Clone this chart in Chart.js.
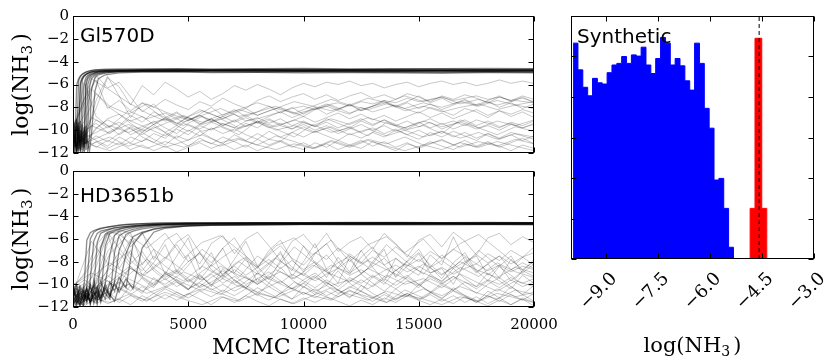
<!DOCTYPE html>
<html>
<head>
<meta charset="utf-8">
<script src="https://cdn.jsdelivr.net/npm/chart.js@4.4.1/dist/chart.umd.min.js"></script>
<style>
html, body { margin: 0; padding: 0; background: #fff; overflow: hidden; }
.box { position: absolute; }
</style>
</head>
<body>
<div class="box" style="left:0;top:0;width:560px;height:167px"><canvas id="traceTop"></canvas></div>
<div class="box" style="left:0;top:156px;width:560px;height:207px"><canvas id="traceBottom"></canvas></div>
<div class="box" style="left:555px;top:0;width:276px;height:363px"><canvas id="histSynth"></canvas></div>
<script>
// MCMC traces of log(NH3) for two objects + posterior histogram of a synthetic retrieval

// iteration grids used by the straggling walkers (both panels)
const strayIters = [0,500,1000,1500,2000,2500,3000,3500,4000,4500,5000,5500,6000,6500,7000,7500,8000,8500,9000,9500,10000,
  10500,11000,11500,12000,12500,13000,13500,14000,14500,15000,15500,16000,16500,17000,17500,18000,18500,19000,19500,20000];
const strayIters2 = [0,800,1600,2400,3200,4000,4800,5600,6400,7200,8000,8800,9600,10400,11200,12000,12800,13600,14400,15200,
  16000,16800,17600,18400,19200,20000];

// Gl570D: walkers that converge onto the -4.7 band
const convItersTop = [0,80,160,240,320,400,480,560,640,720,800,950,1100,1400,2000,3000,4500,6000,8000,10000,12000,14000,16000,18000,20000];
const convTop = [
  [-10.2,-11.5,-9.1,-11.8,-5.8,-5.4,-5.2,-5.1,-5.0,-4.95,-4.9,-4.85,-4.8,-4.77,-4.74,-4.72,-4.7,-4.74,-4.71,-4.73,-4.7,-4.72,-4.74,-4.7,-4.72],
  [-11.8,-10.4,-11.9,-10.2,-11.6,-9.8,-5.9,-5.4,-5.2,-5.1,-5.0,-4.95,-4.88,-4.83,-4.8,-4.78,-4.76,-4.8,-4.77,-4.75,-4.78,-4.8,-4.76,-4.79,-4.77],
  [-9.4,-10.9,-11.7,-9.6,-11.1,-10.5,-11.9,-6.1,-5.5,-5.3,-5.15,-5.0,-4.92,-4.87,-4.85,-4.82,-4.8,-4.78,-4.82,-4.85,-4.8,-4.83,-4.81,-4.84,-4.8],
  [-10.8,-9.7,-11.4,-5.7,-5.3,-5.1,-5.0,-4.92,-4.86,-4.82,-4.78,-4.74,-4.72,-4.7,-4.69,-4.68,-4.66,-4.69,-4.67,-4.65,-4.68,-4.66,-4.64,-4.67,-4.65],
  [-11.3,-11.9,-10.1,-11.4,-9.2,-11.0,-10.3,-11.7,-9.8,-6.2,-5.5,-5.2,-5.05,-4.95,-4.9,-4.88,-4.86,-4.9,-4.92,-4.88,-4.9,-4.93,-4.95,-4.91,-4.93],
  [-9.9,-10.6,-11.4,-9.3,-11.8,-5.6,-5.3,-5.15,-5.05,-4.98,-4.92,-4.86,-4.82,-4.79,-4.76,-4.74,-4.73,-4.75,-4.76,-4.74,-4.75,-4.77,-4.75,-4.74,-4.76],
  [-10.5,-11.1,-9.0,-11.6,-10.4,-11.9,-9.7,-11.2,-6.0,-5.5,-5.3,-5.1,-5.0,-4.9,-4.82,-4.76,-4.79,-4.77,-4.74,-4.78,-4.76,-4.74,-4.78,-4.8,-4.78],
  [-11.6,-10.2,-11.8,-10.4,-11.3,-9.5,-11.6,-10.1,-11.9,-10.6,-6.4,-5.4,-5.15,-5.0,-4.88,-4.83,-4.84,-4.82,-4.86,-4.84,-4.86,-4.84,-4.87,-4.85,-4.88],
  [-10.1,-11.3,-6.0,-5.5,-5.25,-5.1,-5.0,-4.92,-4.86,-4.8,-4.76,-4.72,-4.69,-4.66,-4.64,-4.63,-4.62,-4.64,-4.62,-4.6,-4.63,-4.61,-4.62,-4.6,-4.62],
  [-11.0,-11.7,-9.3,-10.9,-11.8,-10.2,-11.5,-9.6,-11.1,-11.8,-10.4,-6.6,-5.5,-5.15,-4.98,-4.92,-4.9,-4.96,-4.94,-4.97,-4.95,-4.98,-5.0,-4.96,-4.98],
  [-10.7,-9.5,-11.2,-11.9,-10.0,-11.4,-10.8,-5.7,-5.35,-5.2,-5.1,-4.98,-4.9,-4.85,-4.8,-4.75,-4.72,-4.71,-4.7,-4.73,-4.71,-4.7,-4.72,-4.71,-4.73],
  [-11.5,-10.8,-11.9,-10.1,-6.0,-5.5,-5.25,-5.1,-5.0,-4.93,-4.88,-4.83,-4.8,-4.78,-4.76,-4.8,-4.82,-4.79,-4.81,-4.8,-4.82,-4.84,-4.81,-4.83,-4.82]
];
// Gl570D: walkers still wandering in the low-abundance tail
const strayTop = [
  [-10.5,-11.2,-9.8,-9.1,-9.6,-8.7,-9.3,-8.4,-8.9,-9.5,-8.8,-8.2,-8.6,-9.0,-8.5,-8.1,-8.7,-8.3,-8.0,-8.4,-8.8,-8.2,-7.9,-8.3,-8.6,-8.0,-8.4,-8.1,-7.8,-8.2,-8.5,-8.0,-8.3,-8.7,-8.1,-8.4,-8.9,-8.3,-8.6,-8.2,-8.5],
  [-11.6,-10.3,-10.9,-11.4,-10.6,-11.1,-10.2,-10.8,-11.3,-10.5,-10.9,-10.1,-10.7,-11.2,-10.4,-10.9,-10.3,-10.8,-11.0,-10.2,-10.6,-10.1,-10.5,-10.9,-10.3,-10.7,-10.2,-10.6,-10.0,-10.4,-10.8,-10.2,-10.6,-10.1,-10.5,-10.9,-10.3,-10.7,-10.2,-10.5,-10.8],
  [-9.8,-7.2,-5.6,-8.1,-7.4,-8.3,-7.6,-8.0,-7.3,-7.8,-8.2,-7.5,-7.9,-7.2,-7.7,-8.1,-7.4,-7.0,-7.5,-7.1,-6.8,-7.3,-6.9,-7.4,-7.0,-6.7,-7.2,-6.9,-7.3,-6.8,-7.1,-7.5,-7.0,-7.3,-6.9,-7.2,-7.6,-7.1,-7.4,-7.0,-7.3],
  [-11.0,-10.1,-9.4,-10.2,-9.7,-10.4,-9.9,-9.2,-9.8,-10.3,-9.5,-9.9,-9.3,-9.7,-10.1,-9.4,-9.8,-9.1,-9.6,-9.9,-9.3,-9.7,-9.0,-9.4,-9.8,-9.2,-9.6,-9.1,-9.5,-9.9,-9.4,-9.0,-9.5,-9.2,-9.6,-9.1,-9.4,-9.8,-9.3,-9.6,-9.2],
  [-10.2,-5.9,-8.8,-9.6,-10.4,-9.8,-10.6,-11.1,-10.3,-10.8,-11.4,-10.7,-11.2,-10.6,-11.0,-11.5,-10.8,-11.3,-10.9,-11.4,-11.7,-11.1,-11.5,-10.9,-11.3,-11.6,-11.0,-11.4,-11.8,-11.2,-11.5,-11.0,-11.4,-11.7,-11.2,-11.5,-11.1,-11.4,-11.8,-11.3,-11.6],
  [-12.0,-11.3,-9.9,-9.0,-8.6,-9.2,-8.8,-9.5,-8.9,-8.4,-9.1,-8.7,-9.3,-9.0,-8.6,-9.2,-8.9,-9.4,-9.0,-9.6,-9.2,-9.7,-9.3,-9.8,-9.4,-9.0,-9.5,-9.1,-9.6,-9.2,-9.7,-9.3,-9.9,-9.5,-9.1,-9.6,-9.2,-9.7,-9.4,-9.8,-9.5],
  [-10.7,-9.2,-6.8,-7.9,-8.6,-9.4,-10.1,-9.5,-10.2,-10.7,-10.0,-10.5,-9.8,-10.3,-9.9,-10.4,-10.8,-10.1,-10.6,-10.2,-9.7,-10.2,-9.8,-10.3,-9.9,-9.5,-10.0,-9.6,-10.1,-9.7,-9.3,-9.8,-9.4,-9.9,-9.5,-9.9,-9.6,-10.0,-9.5,-9.8,-9.4],
  [-11.4,-10.8,-11.5,-10.9,-11.3,-10.6,-11.0,-10.3,-10.7,-9.9,-10.4,-9.6,-10.0,-9.4,-9.8,-9.2,-9.0,-8.7,-8.4,-8.1,-7.9,-8.2,-7.8,-7.6,-7.9,-7.5,-7.7,-7.4,-7.6,-7.2,-7.5,-7.3,-7.1,-7.4,-7.2,-7.0,-7.3,-7.1,-7.4,-7.2,-7.5],
  [-9.6,-10.4,-8.1,-5.4,-6.2,-7.8,-6.1,-6.9,-5.8,-6.4,-7.1,-6.6,-7.3,-6.8,-6.1,-6.5,-6.0,-6.4,-6.9,-6.3,-5.9,-6.2,-5.8,-6.0,-5.7,-6.1,-5.9,-6.3,-6.0,-5.8,-6.2,-5.9,-5.7,-6.0,-5.8,-6.1,-5.9,-5.6,-5.9,-5.7,-5.9],
  [-11.9,-11.2,-10.5,-11.0,-10.3,-9.7,-10.2,-9.5,-9.0,-9.6,-9.1,-8.7,-9.2,-8.8,-9.3,-8.9,-9.4,-9.0,-9.5,-9.2,-8.8,-9.3,-8.9,-8.5,-9.0,-8.6,-9.1,-8.7,-9.2,-8.8,-8.4,-8.9,-8.5,-9.0,-8.6,-8.2,-8.7,-8.3,-8.8,-8.4,-8.9],
  [-10.0,-11.0,-7.4,-5.3,-7.0,-8.9,-7.6,-8.3,-9.1,-8.5,-9.2,-8.6,-8.0,-8.7,-8.2,-8.8,-8.4,-7.9,-8.5,-8.0,-8.6,-8.1,-7.7,-8.2,-7.8,-8.3,-7.9,-7.5,-8.0,-7.6,-8.1,-7.7,-8.2,-7.8,-7.4,-7.9,-7.5,-8.0,-7.6,-8.1,-7.7],
  [-11.2,-11.8,-11.0,-11.6,-11.1,-11.7,-11.3,-11.8,-11.4,-11.9,-11.5,-11.1,-11.6,-11.2,-11.7,-11.3,-11.8,-11.4,-11.0,-11.5,-11.1,-11.6,-11.2,-11.7,-11.3,-10.9,-11.4,-11.0,-11.5,-11.1,-11.6,-11.2,-10.8,-11.3,-10.9,-11.4,-11.0,-11.5,-11.1,-10.7,-11.2],
  [-10.4,-8.6,-5.2,-6.3,-5.8,-7.1,-8.4,-7.7,-8.8,-9.4,-8.9,-9.5,-9.0,-9.6,-9.1,-9.7,-9.3,-9.8,-9.4,-9.9,-9.5,-10.0,-9.6,-10.1,-9.7,-10.2,-9.8,-10.3,-9.9,-10.4,-10.0,-10.5,-10.1,-10.6,-10.2,-10.7,-10.3,-10.8,-10.4,-10.9,-10.5],
  [-11.5,-10.6,-9.1,-9.8,-9.3,-9.9,-10.4,-9.7,-10.2,-9.6,-10.1,-9.5,-9.0,-9.6,-9.2,-8.7,-9.3,-8.8,-8.4,-8.9,-8.5,-8.0,-8.6,-8.2,-7.7,-8.3,-7.9,-7.4,-7.9,-7.5,-7.0,-7.6,-7.2,-7.7,-7.3,-7.8,-7.4,-7.0,-7.5,-7.1,-7.6]
];
const strayTop2 = [
  [-10.9,-9.6,-10.3,-9.1,-9.8,-10.5,-9.4,-10.1,-9.7,-10.4,-9.2,-9.9,-10.6,-9.5,-10.2,-9.8,-10.5,-9.3,-10.0,-9.6,-10.3,-9.1,-9.8,-10.4,-9.7,-10.1],
  [-11.7,-8.9,-9.7,-8.3,-9.0,-8.5,-9.3,-8.7,-8.1,-8.8,-8.4,-7.9,-8.6,-8.2,-7.8,-8.5,-8.0,-7.6,-8.3,-7.9,-8.4,-8.0,-7.7,-8.2,-7.8,-8.1],
  [-10.3,-11.2,-10.6,-11.4,-10.8,-11.5,-11.0,-10.4,-11.1,-10.7,-11.3,-10.5,-11.0,-11.6,-10.9,-11.4,-10.8,-11.2,-10.6,-11.3,-10.9,-11.5,-11.0,-11.4,-10.8,-11.2],
  [-9.7,-6.4,-7.9,-8.6,-7.7,-8.4,-9.0,-8.3,-8.9,-8.2,-7.6,-8.1,-7.5,-7.9,-7.3,-7.8,-7.2,-7.6,-7.0,-7.5,-7.1,-7.7,-7.3,-7.8,-7.4,-7.6],
  [-11.1,-10.4,-9.6,-10.2,-9.5,-9.0,-9.6,-8.8,-9.4,-9.9,-9.2,-9.7,-9.1,-9.6,-9.0,-9.5,-8.9,-9.4,-9.8,-9.2,-9.7,-9.3,-9.8,-9.2,-9.6,-9.1],
  [-10.0,-5.5,-6.5,-7.6,-8.5,-9.2,-8.7,-9.5,-9.0,-9.8,-9.3,-10.0,-9.6,-10.2,-9.7,-10.4,-9.9,-10.5,-10.0,-10.6,-10.1,-10.7,-10.2,-10.8,-10.3,-10.6],
  [-11.5,-10.9,-10.2,-9.5,-10.1,-9.4,-8.8,-9.3,-8.7,-8.2,-8.7,-8.1,-8.5,-7.9,-8.3,-7.8,-8.2,-7.7,-8.1,-7.6,-8.0,-7.5,-7.9,-7.4,-7.8,-7.5],
  [-10.6,-11.3,-11.8,-11.1,-11.6,-11.0,-11.5,-10.9,-11.4,-10.8,-11.3,-11.7,-11.2,-11.6,-11.0,-11.5,-10.9,-11.4,-11.8,-11.3,-11.7,-11.1,-11.5,-11.0,-11.4,-11.8]
];

// HD3651b: walkers converging onto the -4.6 band (slower burn-in)
const convItersBottom = [0,150,300,450,600,750,900,1050,1200,1400,1600,1800,2000,2300,2600,3000,3500,4000,5000,6000,8000,10000,12000,14000,16000,18000,20000];
const convBottom = [
  [-10.4,-11.3,-11.8,-10.2,-11.5,-9.6,-6.2,-5.5,-5.3,-5.2,-5.1,-5.0,-4.95,-4.88,-4.82,-4.76,-4.72,-4.68,-4.64,-4.62,-4.6,-4.62,-4.6,-4.58,-4.6,-4.62,-4.6],
  [-11.1,-10.2,-11.5,-11.9,-10.4,-11.2,-10.6,-11.8,-6.8,-5.6,-5.35,-5.2,-5.1,-4.98,-4.9,-4.82,-4.75,-4.7,-4.66,-4.64,-4.63,-4.6,-4.62,-4.6,-4.63,-4.61,-4.6],
  [-9.9,-11.6,-10.7,-11.3,-10.4,-11.7,-9.6,-10.9,-11.4,-9.9,-7.4,-5.7,-5.35,-5.15,-5.0,-4.88,-4.8,-4.74,-4.7,-4.68,-4.66,-4.64,-4.66,-4.63,-4.65,-4.66,-4.64],
  [-10.8,-10.0,-11.2,-11.8,-10.1,-6.0,-5.4,-5.2,-5.1,-5.0,-4.92,-4.86,-4.8,-4.74,-4.7,-4.65,-4.62,-4.6,-4.58,-4.57,-4.55,-4.56,-4.54,-4.56,-4.55,-4.53,-4.55],
  [-11.7,-11.0,-10.5,-11.4,-10.8,-11.5,-11.0,-10.2,-11.6,-10.4,-11.1,-9.8,-7.0,-5.6,-5.3,-5.1,-4.95,-4.85,-4.78,-4.74,-4.72,-4.7,-4.68,-4.7,-4.69,-4.71,-4.7],
  [-10.2,-11.0,-11.6,-11.1,-10.3,-11.8,-10.5,-6.3,-5.5,-5.3,-5.15,-5.05,-4.98,-4.9,-4.84,-4.78,-4.72,-4.68,-4.65,-4.63,-4.62,-4.6,-4.59,-4.61,-4.6,-4.58,-4.6],
  [-11.4,-11.9,-10.9,-11.5,-11.0,-11.6,-10.7,-11.2,-10.5,-11.3,-9.8,-10.6,-9.4,-10.3,-6.5,-5.5,-5.1,-4.95,-4.82,-4.76,-4.72,-4.7,-4.72,-4.7,-4.73,-4.7,-4.72],
  [-10.6,-11.2,-10.1,-10.7,-11.6,-10.0,-11.4,-10.3,-11.1,-6.6,-5.5,-5.3,-5.15,-5.0,-4.9,-4.8,-4.72,-4.66,-4.62,-4.6,-4.58,-4.57,-4.58,-4.56,-4.57,-4.58,-4.56],
  [-11.0,-11.7,-11.3,-10.6,-11.2,-10.8,-10.1,-11.5,-9.7,-10.8,-11.3,-7.2,-5.7,-5.35,-5.15,-4.98,-4.85,-4.76,-4.7,-4.67,-4.65,-4.63,-4.65,-4.64,-4.62,-4.64,-4.63],
  [-11.8,-11.3,-11.9,-11.4,-10.9,-11.5,-11.0,-10.6,-11.1,-10.3,-11.0,-9.9,-10.7,-9.5,-10.4,-6.8,-5.4,-5.05,-4.85,-4.78,-4.72,-4.7,-4.68,-4.7,-4.67,-4.69,-4.68],
  [-10.9,-11.6,-10.3,-11.1,-6.1,-5.45,-5.25,-5.15,-5.05,-4.97,-4.9,-4.84,-4.78,-4.72,-4.68,-4.64,-4.6,-4.58,-4.56,-4.57,-4.55,-4.57,-4.56,-4.54,-4.56,-4.57,-4.55],
  [-11.2,-10.5,-11.8,-10.9,-11.4,-10.1,-11.7,-10.8,-11.3,-10.0,-10.9,-11.5,-10.2,-7.3,-5.8,-5.4,-5.15,-4.98,-4.86,-4.8,-4.76,-4.74,-4.73,-4.75,-4.74,-4.72,-4.74]
];
const strayBottom = [
  [-10.8,-11.5,-10.2,-9.4,-8.1,-6.0,-7.5,-8.8,-9.6,-8.9,-9.8,-9.2,-10.1,-9.5,-8.7,-9.4,-10.0,-9.3,-9.9,-9.1,-9.7,-10.3,-9.6,-10.2,-9.4,-9.9,-9.2,-9.8,-10.4,-9.7,-10.1,-9.5,-10.0,-9.3,-9.8,-10.2,-9.6,-10.0,-9.4,-9.9,-9.5],
  [-11.3,-10.6,-11.4,-10.9,-11.6,-11.0,-11.5,-10.8,-11.3,-10.7,-11.2,-10.6,-11.1,-10.5,-11.0,-10.4,-10.9,-11.4,-10.8,-11.3,-10.7,-11.2,-10.6,-11.1,-10.5,-11.0,-11.5,-10.9,-11.4,-10.8,-11.3,-10.7,-11.2,-10.6,-11.1,-11.6,-11.0,-11.5,-10.9,-11.4,-10.8],
  [-10.1,-9.2,-7.4,-5.4,-6.8,-8.2,-7.1,-8.6,-7.8,-6.5,-8.0,-7.3,-8.4,-7.6,-6.9,-7.9,-8.5,-7.4,-6.6,-7.7,-8.3,-7.2,-7.8,-6.8,-7.5,-8.1,-7.0,-7.6,-6.7,-7.4,-8.0,-7.1,-7.7,-6.9,-7.5,-8.2,-7.3,-7.9,-7.0,-7.6,-7.2],
  [-11.9,-11.0,-10.3,-9.7,-10.5,-9.9,-10.6,-10.1,-9.5,-10.2,-9.6,-10.3,-9.8,-9.2,-9.9,-9.3,-10.0,-9.4,-8.9,-9.5,-9.0,-9.7,-9.1,-8.6,-9.2,-8.7,-9.4,-8.8,-8.3,-8.9,-8.4,-9.0,-8.5,-9.1,-8.6,-8.2,-8.8,-8.3,-8.9,-8.4,-8.7],
  [-10.5,-11.8,-9.6,-6.4,-5.2,-5.5,-8.3,-6.9,-9.1,-7.5,-5.9,-8.7,-7.2,-9.3,-7.8,-6.2,-8.4,-9.6,-7.9,-8.8,-6.6,-8.1,-9.4,-7.6,-8.9,-7.0,-8.5,-9.7,-7.7,-8.6,-9.2,-7.4,-8.3,-5.8,-7.9,-9.0,-8.2,-9.5,-7.8,-8.7,-8.0],
  [-11.6,-10.9,-11.7,-11.2,-10.4,-10.9,-10.2,-10.8,-10.3,-9.8,-10.4,-9.9,-10.5,-10.0,-10.6,-10.1,-10.7,-10.2,-10.8,-10.3,-10.9,-10.4,-11.0,-10.5,-11.1,-10.6,-11.2,-10.7,-11.3,-10.8,-11.4,-10.9,-11.5,-11.0,-11.6,-11.1,-11.7,-11.2,-11.8,-11.3,-11.9],
  [-10.3,-9.6,-10.4,-8.7,-7.2,-8.5,-9.3,-8.6,-9.4,-8.8,-9.7,-9.0,-8.3,-9.1,-8.4,-9.2,-8.5,-7.8,-8.6,-7.9,-8.7,-8.0,-8.8,-8.1,-7.5,-8.2,-7.6,-8.3,-7.7,-8.4,-7.8,-8.5,-7.9,-8.6,-8.0,-7.4,-8.1,-7.5,-8.2,-7.6,-8.3],
  [-11.1,-10.5,-11.3,-10.7,-11.4,-10.1,-10.8,-9.4,-10.2,-9.6,-10.4,-9.8,-9.1,-9.9,-9.3,-10.0,-9.5,-10.2,-9.7,-10.4,-9.9,-10.6,-10.1,-10.8,-10.3,-9.6,-10.2,-9.5,-10.1,-9.4,-10.0,-9.3,-9.9,-10.5,-9.8,-10.4,-9.7,-10.3,-9.6,-10.2,-9.8],
  [-9.8,-10.7,-8.5,-5.6,-5.3,-6.7,-5.4,-7.8,-6.1,-5.5,-6.9,-8.2,-6.4,-5.7,-7.3,-6.0,-5.4,-6.6,-7.9,-6.2,-5.6,-6.8,-5.5,-7.1,-6.3,-5.8,-6.9,-5.5,-6.4,-7.6,-6.1,-5.6,-6.7,-5.4,-6.2,-7.4,-5.9,-5.5,-6.5,-5.8,-6.3],
  [-11.4,-11.9,-11.2,-11.7,-11.3,-11.8,-11.0,-11.5,-10.9,-11.4,-10.8,-11.3,-11.8,-11.1,-11.6,-11.0,-11.5,-11.9,-11.3,-11.7,-11.2,-11.6,-11.1,-11.5,-11.9,-11.4,-11.8,-11.2,-11.6,-11.0,-11.4,-11.8,-11.3,-11.7,-11.1,-11.5,-11.9,-11.4,-11.8,-11.2,-11.6],
  [-10.6,-9.9,-10.8,-9.2,-10.0,-8.4,-9.5,-10.3,-8.9,-9.8,-10.5,-9.1,-10.2,-8.6,-9.7,-10.4,-9.0,-9.9,-8.5,-9.6,-10.3,-9.2,-10.1,-8.8,-9.9,-10.6,-9.3,-10.0,-8.7,-9.6,-10.3,-9.1,-9.8,-8.6,-9.5,-10.2,-9.0,-9.7,-10.4,-9.2,-9.9],
  [-11.0,-10.2,-7.8,-5.5,-8.6,-7.0,-9.2,-8.1,-6.5,-8.9,-7.4,-9.6,-8.3,-6.8,-9.0,-7.7,-9.8,-8.5,-7.1,-9.3,-8.0,-6.4,-8.7,-9.9,-7.6,-9.1,-8.2,-6.9,-9.4,-8.4,-7.3,-9.0,-8.6,-10.0,-8.1,-7.5,-9.2,-8.3,-9.7,-8.8,-9.3],
  [-11.7,-11.1,-11.6,-10.5,-9.8,-10.6,-9.4,-10.1,-9.0,-9.7,-10.5,-9.3,-10.0,-10.7,-9.6,-10.3,-11.0,-9.9,-10.6,-11.3,-10.2,-10.9,-9.8,-10.5,-11.2,-10.1,-10.8,-11.4,-10.4,-11.1,-10.0,-10.7,-11.3,-10.3,-11.0,-11.6,-10.6,-11.2,-10.2,-10.9,-11.5],
  [-10.9,-11.4,-10.0,-7.1,-5.8,-7.9,-8.8,-7.5,-8.4,-9.1,-8.0,-7.2,-8.7,-9.4,-8.2,-7.6,-8.9,-8.1,-7.3,-8.5,-9.2,-8.3,-7.4,-8.6,-7.8,-9.0,-8.4,-7.7,-8.8,-8.0,-7.2,-8.3,-9.1,-8.5,-7.6,-8.9,-8.2,-7.5,-8.7,-8.1,-8.6],
  [-12.0,-11.5,-10.8,-10.2,-9.4,-8.6,-9.3,-10.0,-9.2,-8.7,-9.5,-10.2,-9.4,-8.8,-9.6,-10.3,-9.5,-8.9,-9.7,-10.4,-9.6,-9.0,-9.8,-10.5,-9.7,-9.1,-9.9,-10.6,-9.8,-9.2,-10.0,-10.7,-9.9,-9.3,-10.1,-10.8,-10.0,-9.4,-10.2,-10.9,-10.1],
  [-10.4,-9.0,-6.6,-5.3,-5.6,-6.4,-5.5,-6.9,-7.7,-6.3,-5.6,-7.2,-8.1,-6.8,-5.9,-7.5,-8.6,-7.0,-6.1,-7.8,-8.9,-7.3,-6.4,-8.0,-9.1,-7.6,-6.7,-8.3,-9.3,-7.9,-6.9,-8.5,-9.5,-8.1,-7.2,-8.8,-9.7,-8.4,-7.5,-9.0,-8.2]
];
const strayBottom2 = [
  [-11.2,-10.4,-8.6,-9.5,-10.3,-9.1,-9.9,-10.6,-9.4,-10.2,-9.0,-9.8,-10.5,-9.3,-10.1,-9.6,-10.4,-9.2,-10.0,-9.5,-10.3,-9.1,-9.9,-10.6,-9.7,-10.2],
  [-10.7,-6.2,-8.4,-7.1,-9.0,-7.6,-8.8,-6.9,-8.2,-9.4,-7.5,-8.6,-6.7,-8.0,-9.2,-7.3,-8.5,-6.5,-7.9,-9.1,-7.4,-8.7,-7.0,-8.3,-9.5,-7.8],
  [-11.9,-11.2,-11.6,-10.9,-11.4,-10.7,-11.3,-11.8,-11.1,-11.5,-10.8,-11.2,-11.7,-11.0,-11.4,-10.6,-11.1,-11.6,-10.9,-11.3,-11.8,-11.1,-11.5,-10.8,-11.2,-11.6],
  [-10.1,-9.0,-9.8,-8.5,-9.3,-10.0,-8.9,-9.6,-8.4,-9.2,-9.9,-8.7,-9.5,-8.3,-9.1,-9.8,-8.6,-9.4,-8.2,-9.0,-9.7,-8.5,-9.3,-8.1,-8.9,-9.4],
  [-11.4,-10.6,-7.3,-5.6,-6.8,-5.5,-7.7,-6.3,-5.7,-7.0,-8.4,-6.6,-5.9,-7.4,-6.1,-8.0,-6.5,-5.8,-7.2,-6.0,-7.8,-6.4,-5.6,-6.9,-8.2,-6.7],
  [-10.5,-11.3,-10.6,-10.0,-10.8,-10.2,-11.0,-10.4,-10.9,-10.1,-10.7,-11.2,-10.5,-11.0,-10.3,-10.9,-11.4,-10.6,-11.1,-10.4,-11.0,-10.2,-10.8,-11.3,-10.5,-10.9],
  [-11.6,-9.4,-8.1,-9.2,-7.8,-8.9,-9.7,-8.4,-9.3,-8.0,-9.1,-7.7,-8.8,-9.6,-8.3,-9.0,-7.9,-8.7,-9.5,-8.2,-9.2,-8.0,-8.8,-9.4,-8.5,-9.0],
  [-10.3,-11.0,-9.9,-10.7,-11.5,-10.4,-11.2,-10.0,-10.8,-11.4,-10.3,-11.1,-9.8,-10.6,-11.3,-10.2,-10.9,-11.6,-10.5,-11.2,-10.1,-10.8,-11.5,-10.4,-11.1,-10.7]
];

// Synthetic posterior: blue histogram (bin left edges + heights), red histogram, true value
const blueEdges = [-9.94,-9.80,-9.66,-9.52,-9.38,-9.24,-9.10,-8.96,-8.82,-8.68,-8.54,-8.40,-8.26,-8.12,-7.98,-7.84,-7.70,
  -7.56,-7.42,-7.28,-7.14,-7.00,-6.86,-6.72,-6.58,-6.44,-6.30,-6.16,-6.02,-5.88,-5.74,-5.60,-5.46,-5.32];
const blueCounts = [5.33,4.67,4.24,4.03,4.46,4.35,4.32,4.60,4.79,4.83,5.00,4.83,5.04,5.01,5.23,4.79,4.58,
  4.95,5.47,5.33,4.79,4.95,4.77,4.40,4.17,5.33,4.83,3.72,3.23,1.95,1.99,1.25,0.29];
const redEdges = [-4.84,-4.70,-4.505,-4.36];
const redCounts = [1.25,5.45,1.25];
const trueValue = -4.58;
const histTicks = [-9.0,-7.5,-6.0,-4.5,-3.0];

const serif15 = { family: 'DejaVu Serif', size: 15 };
const serif18 = { family: 'DejaVu Serif', size: 18 };
const serif22 = { family: 'DejaVu Serif', size: 22 };

function minusLabel(v, digits){
    const s = digits ? Math.abs(v).toFixed(digits) : String(Math.abs(v));
    return v < 0 ? '\u2212' + s : s;
}

function pts(xs, ys){
    return ys.map((y, i) => ({ x: xs[i], y: y }));
}

// matplotlib-like frame with inward ticks on all four sides
const frameTicks = {
    id: 'frameTicks',
    afterDatasetsDraw(chart){
        const { ctx, chartArea: a, scales } = chart;
        const L = Math.round(a.left) + 0.5, R = Math.round(a.right) - 0.5;
        const T = Math.round(a.top) + 0.5, B = Math.round(a.bottom) - 0.5;
        ctx.save();
        ctx.strokeStyle = '#000';
        ctx.lineWidth = 1;
        ctx.beginPath();
        scales.x.ticks.forEach(t => {
            const px = Math.round(scales.x.getPixelForValue(t.value)) + 0.5;
            ctx.moveTo(px, B); ctx.lineTo(px, B - 5);
            ctx.moveTo(px, T); ctx.lineTo(px, T + 5);
        });
        scales.y.ticks.forEach(t => {
            const py = Math.round(scales.y.getPixelForValue(t.value)) + 0.5;
            ctx.moveTo(L, py); ctx.lineTo(L + 5, py);
            ctx.moveTo(R, py); ctx.lineTo(R - 5, py);
        });
        ctx.stroke();
        ctx.strokeRect(L, T, R - L, B - T);
        ctx.restore();
    }
};

// panel name in the upper-left corner of the plot area
const panelLabel = {
    id: 'panelLabel',
    afterDraw(chart, args, opts){
        if (!opts || !opts.text) return;
        const { ctx, chartArea: a } = chart;
        ctx.save();
        ctx.font = '20px "DejaVu Sans"';
        ctx.fillStyle = '#000';
        ctx.textBaseline = 'alphabetic';
        ctx.fillText(opts.text, a.left + opts.dx, a.top + opts.dy);
        ctx.restore();
    }
};

// axis label log(NH_3) with a real subscript, like matplotlib mathtext
const nh3Title = {
    id: 'nh3Title',
    afterDraw(chart, args, opts){
        if (!opts || !opts.axis) return;
        const { ctx, chartArea: a } = chart;
        const big = opts.size + 'px "DejaVu Serif"';
        const small = Math.round(opts.size * 0.66) + 'px "DejaVu Serif"';
        ctx.save();
        ctx.fillStyle = '#000';
        ctx.textBaseline = 'alphabetic';
        ctx.font = big;
        const w1 = ctx.measureText('log(NH').width;
        const w3 = ctx.measureText(')').width;
        ctx.font = small;
        const w2 = ctx.measureText('3').width;
        const gap = opts.size * 0.15;
        const total = w1 + w2 + gap + w3;
        if (opts.axis === 'y') {
            ctx.translate(a.left - opts.offset, (a.top + a.bottom) / 2);
            ctx.rotate(-Math.PI / 2);
        } else {
            ctx.translate((a.left + a.right) / 2, a.bottom + opts.offset);
        }
        let x = -total / 2;
        ctx.font = big;
        ctx.fillText('log(NH', x, 0);
        x += w1;
        ctx.font = small;
        ctx.fillText('3', x, opts.size * 0.2);
        x += w2 + gap;
        ctx.font = big;
        ctx.fillText(')', x, 0);
        ctx.restore();
    }
};

function traceChart(canvasId, name, labelDy, convIters, conv, strays, strays2, pad, xHeight, showX){
    const datasets = [];
    conv.forEach(ys => datasets.push({ data: pts(convIters, ys), borderColor: 'rgba(0,0,0,0.45)', borderWidth: 1.3 }));
    strays.forEach(ys => datasets.push({ data: pts(strayIters, ys), borderColor: 'rgba(0,0,0,0.22)', borderWidth: 1 }));
    strays2.forEach(ys => datasets.push({ data: pts(strayIters2, ys), borderColor: 'rgba(0,0,0,0.22)', borderWidth: 1 }));
    datasets.forEach(d => { d.pointRadius = 0; d.tension = 0; d.fill = false; });

    return new Chart(document.getElementById(canvasId), {
        type: 'line',
        data: { datasets },
        options: {
            responsive: true,
            maintainAspectRatio: false,
            animation: false,
            layout: { padding: pad },
            plugins: {
                legend: { display: false },
                tooltip: { enabled: false },
                panelLabel: { text: name, dx: 7, dy: labelDy },
                nh3Title: { axis: 'y', offset: 45.5, size: 22 }
            },
            scales: {
                x: {
                    type: 'linear', min: 0, max: 20000,
                    ticks: { display: showX, stepSize: 5000, padding: 0, maxRotation: 0, font: serif15, color: '#000', callback: v => String(v) },
                    grid: { display: showX, drawOnChartArea: false, drawTicks: showX, tickLength: 9, tickColor: 'rgba(0,0,0,0)' },
                    border: { display: false },
                    title: { display: showX, text: 'MCMC Iteration', font: serif22, color: '#000', padding: { top: 0, bottom: 2 } },
                    afterFit: s => { s.height = xHeight; }
                },
                y: {
                    min: -12, max: 0,
                    ticks: { stepSize: 2, padding: 4, font: serif15, color: '#000', callback: v => minusLabel(v) },
                    grid: { display: false, drawTicks: false },
                    border: { display: false },
                    afterFit: s => { s.width = 73; }
                }
            }
        },
        plugins: [frameTicks, panelLabel, nh3Title]
    });
}

function histChart(){
    const bluePts = pts(blueEdges, blueCounts.concat([0]));
    bluePts.push({ x: -3.0, y: 0 });
    const redPts = [{ x: -10, y: 0 }].concat(pts(redEdges, redCounts.concat([0])));

    new Chart(document.getElementById('histSynth'), {
        type: 'line',
        data: {
            datasets: [
                { data: [{ x: trueValue, y: 0 }, { x: trueValue, y: 6 }], borderColor: '#000', borderWidth: 1, borderDash: [4, 3], fill: false },
                { data: redPts, stepped: 'before', borderColor: '#ff0000', backgroundColor: '#ff0000', borderWidth: 1, fill: 'origin' },
                { data: bluePts, stepped: 'before', borderColor: '#0000ff', backgroundColor: '#0000ff', borderWidth: 1, fill: 'origin' }
            ]
        },
        options: {
            responsive: true,
            maintainAspectRatio: false,
            animation: false,
            elements: { point: { radius: 0 } },
            layout: { padding: { left: 16, top: 16, right: 17, bottom: 0 } },
            plugins: {
                legend: { display: false },
                tooltip: { enabled: false },
                panelLabel: { text: 'Synthetic', dx: 6, dy: 27 },
                nh3Title: { axis: 'x', offset: 93, size: 21 }
            },
            scales: {
                x: {
                    type: 'linear', min: -10, max: -3,
                    afterBuildTicks: s => { s.ticks = histTicks.map(v => ({ value: v })); },
                    ticks: { autoSkip: false, minRotation: 45, maxRotation: 45, padding: 0, labelOffset: 8.5, font: serif18, color: '#000', callback: v => minusLabel(v, 1) },
                    grid: { drawOnChartArea: false, drawTicks: true, tickLength: 9.5, tickColor: 'rgba(0,0,0,0)' },
                    border: { display: false },
                    afterFit: s => { s.height = 104; }
                },
                y: {
                    min: 0, max: 6,
                    ticks: { display: false, stepSize: 1 },
                    grid: { display: false, drawTicks: false },
                    border: { display: false },
                    afterFit: s => { s.width = 0; }
                }
            }
        },
        plugins: [frameTicks, panelLabel, nh3Title]
    });
}

traceChart('traceTop', 'Gl570D', 25.5, convItersTop, convTop, strayTop, strayTop2, { left: 0, top: 16, right: 26, bottom: 14 }, 0, false);
traceChart('traceBottom', 'HD3651b', 30.5, convItersBottom, convBottom, strayBottom, strayBottom2, { left: 0, top: 15, right: 26, bottom: 0 }, 56, true);
histChart();
</script>
</body>
</html>
